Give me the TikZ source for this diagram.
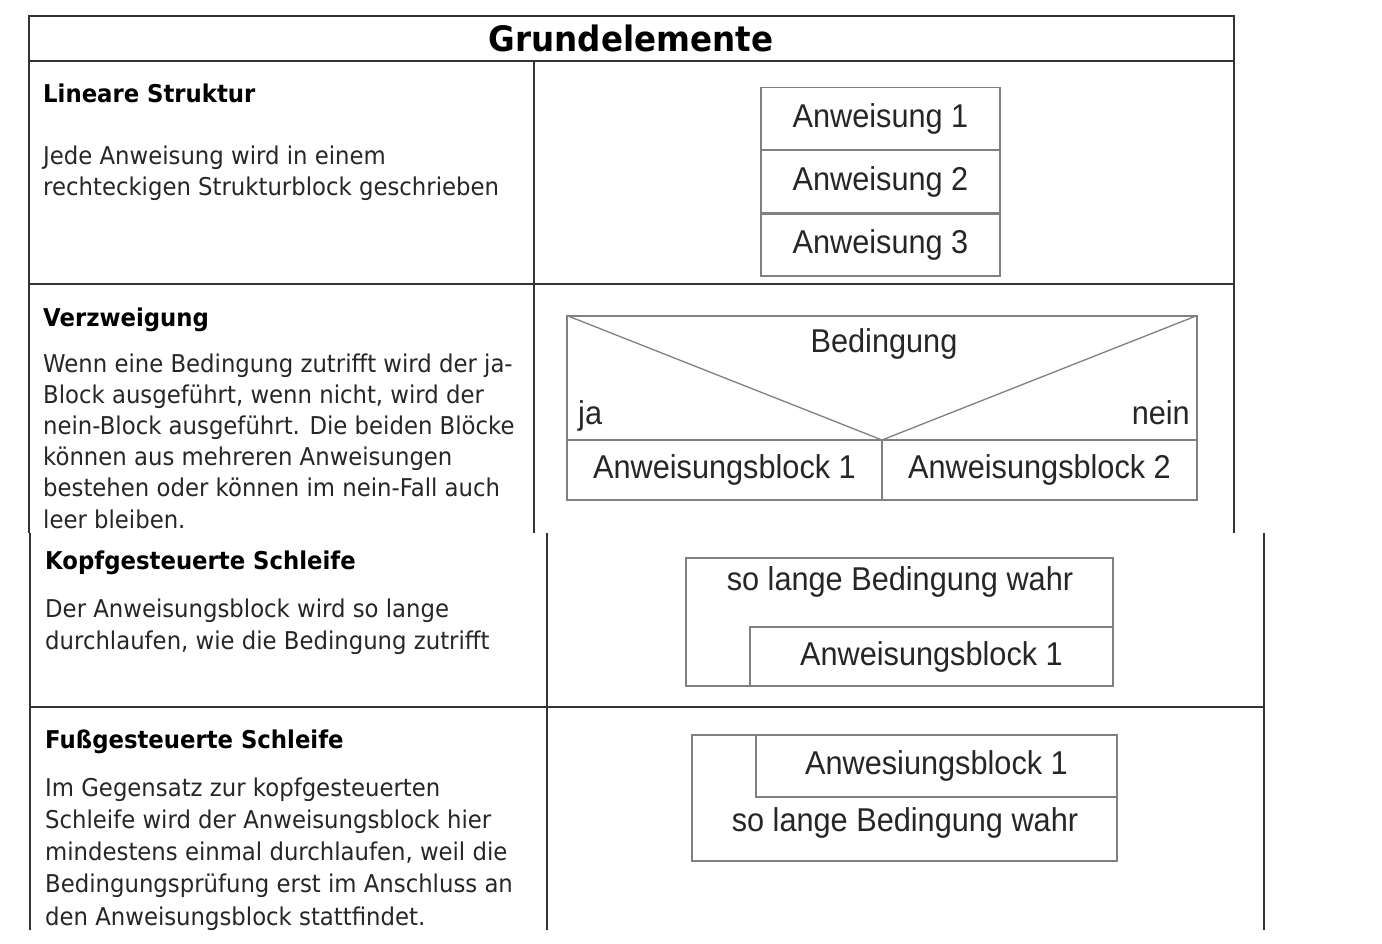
\documentclass[tikz,border=0pt]{standalone}
\usepackage{fontspec}
\newfontfamily\tfont[FakeStretch=0.93]{DejaVu Sans}
\newfontfamily\dfont[FakeStretch=0.93]{Liberation Sans}
\definecolor{gridc}{HTML}{333333}
\definecolor{boxc}{HTML}{808080}
\definecolor{txtc}{HTML}{262626}
\begin{document}
\begin{tikzpicture}[x=1pt,y=-1pt,
  grid/.style={draw=gridc,line width=1.6pt},
  dline/.style={draw=boxc,line width=1.3pt},
  dbox/.style={draw=boxc,line width=1.3pt,inner sep=0pt,font=\dfont\fontsize{33}{38}\selectfont,text=txtc},
  dlabel/.style={inner sep=0pt,font=\dfont\fontsize{33}{38}\selectfont,text=txtc},
  head/.style={anchor=base west,inner sep=0pt,font=\tfont\bfseries\fontsize{24.5}{31.3}\selectfont},
  body/.style={anchor=base west,inner sep=0pt,align=left,text=txtc,font=\tfont\fontsize{24.5}{31.2}\selectfont}]
\useasboundingbox (0,0) rectangle (1382,944);
\fill[white] (0,0) rectangle (1382,944);
% ---- upper table ----
\draw[grid] (29,533) -- (29,16) -- (1234,16) -- (1234,533);
\draw[grid] (29,61) -- (1234,61);
\draw[grid] (534,61) -- (534,533);
\draw[grid] (29,284) -- (1234,284);
\node[anchor=base,inner sep=0pt,font=\tfont\bfseries\fontsize{35}{40}\selectfont] (title) at (631,52) {Grundelemente};
% Lineare Struktur
\node[head] (h1) at (43,103) {Lineare Struktur};
\node[body] (t1) at (43,196) {Jede Anweisung wird in einem\\rechteckigen Strukturblock geschrieben};
\node[dbox,minimum width=239pt,minimum height=62pt] (a1) at (880.5,118.5) {Anweisung 1};
\node[dbox,minimum width=239pt,minimum height=62pt,anchor=north] (a2) at (a1.south) {Anweisung 2};
\node[dbox,minimum width=239pt,minimum height=62pt,anchor=north] (a3) at (a2.south) {Anweisung 3};
% Verzweigung
\node[head] (h2) at (43,326) {Verzweigung};
\node[body] (t2) at (43,528) {Wenn eine Bedingung zutrifft wird der ja-\\Block ausgeführt, wenn nicht, wird der\\nein-Block ausgeführt. Die beiden Blöcke\\können aus mehreren Anweisungen\\bestehen oder können im nein-Fall auch\\leer bleiben.};
\node[dbox,minimum width=630pt,minimum height=124pt] (vc) at (882,378) {};
\coordinate (vm) at (882,440);
\draw[dline] (vc.north west) -- (vm) -- (vc.north east);
\node[dlabel] (bed) at (884,344) {Bedingung};
\node[dlabel,anchor=base west] (ja) at (578,424) {ja};
\node[dlabel,anchor=base east] (nein) at (1190,424) {nein};
\node[dbox,minimum width=315pt,minimum height=60pt] (b1) at (724.5,470) {Anweisungsblock 1};
\node[dbox,minimum width=315pt,minimum height=60pt] (b2) at (1039.5,470) {Anweisungsblock 2};
% ---- lower table ----
\draw[grid] (30,533) -- (30,930);
\draw[grid] (547,533) -- (547,930);
\draw[grid] (1264,533) -- (1264,930);
\draw[grid] (30,707) -- (1264,707);
% Kopfgesteuerte Schleife
\node[head] (h3) at (45,569) {Kopfgesteuerte Schleife};
\node[body] (t3) at (45,649) {Der Anweisungsblock wird so lange\\durchlaufen, wie die Bedingung zutrifft};
\node[dbox,minimum width=427pt,minimum height=128pt] (k) at (899.5,622) {};
\node[dlabel] (kc) at (900,582) {so lange Bedingung wahr};
\node[dbox,minimum width=363pt,minimum height=59pt,anchor=south east] (kb) at (k.south east) {Anweisungsblock 1};
% Fussgesteuerte Schleife
\node[head] (h4) at (45,748) {Fußgesteuerte Schleife};
\node[body,font=\tfont\fontsize{24.5}{32.2}\selectfont] (t4) at (45,925) {Im Gegensatz zur kopfgesteuerten\\Schleife wird der Anweisungsblock hier\\mindestens einmal durchlaufen, weil die\\Bedingungsprüfung erst im Anschluss an\\den Anweisungsblock stattfindet.};
\node[dbox,minimum width=425pt,minimum height=126pt] (f) at (904.5,798) {};
\node[dbox,minimum width=361pt,minimum height=62pt,anchor=north east] (fb) at (f.north east) {Anwesiungsblock 1};
\node[dlabel] (fc) at (905,823) {so lange Bedingung wahr};
\end{tikzpicture}
\end{document}
